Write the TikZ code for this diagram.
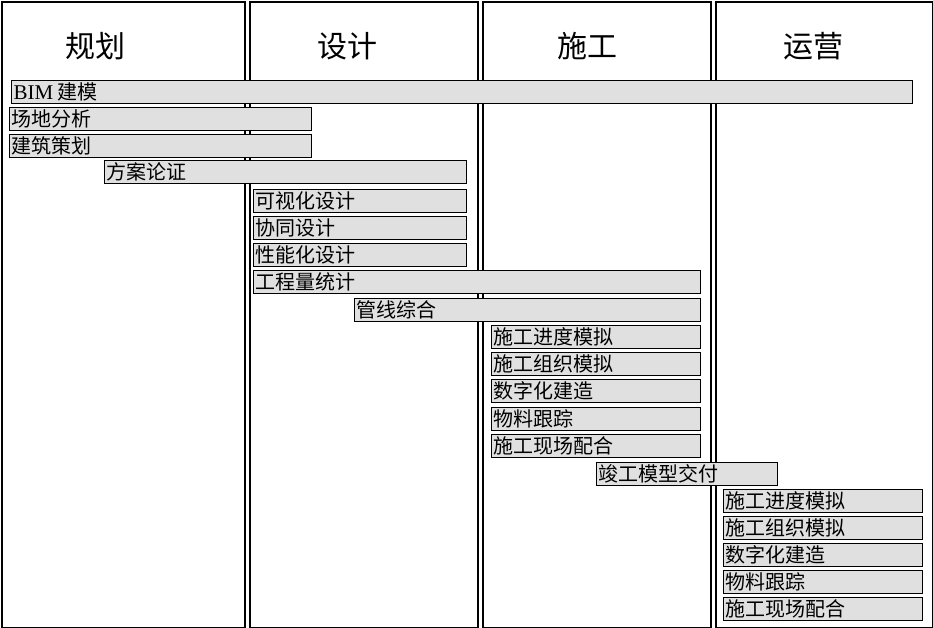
\documentclass[tikz,border=0pt]{standalone}
\usepackage{fontspec}
\setmainfont{Liberation Serif}
\newfontfamily\cjk{Noto Sans CJK SC}
\tikzset{
  colbox/.style={draw, line width=2pt, anchor=north west, inner sep=0pt, fill=white},
  gbarst/.style={draw, line width=1.3pt, fill=black!12, anchor=north west, inner sep=0pt, minimum height=23pt},
  gtext/.style={anchor=west, inner xsep=2.5pt, inner ysep=0pt, font=\fontsize{20}{20}\selectfont\cjk},
  head/.style={font=\fontsize{30}{30}\selectfont\cjk, inner sep=0pt}
}
\newcommand\gbar[5]{%
  \node[gbarst, minimum width=#4pt] (#1) at (#2,-#3) {};
  \node[gtext] (#1t) at (#1.west) {#5};}
\begin{document}
\begin{tikzpicture}[x=1pt,y=1pt]
\useasboundingbox (0,0) rectangle (933,-628);
% columns
\node[colbox, minimum width=243pt, minimum height=626pt] (c1) at (1,-1) {};
\node[colbox, minimum width=227.5pt, minimum height=626pt] (c2) at (249,-1) {};
\node[colbox, minimum width=227.5pt, minimum height=626pt] (c3) at (482,-1) {};
\node[colbox, minimum width=217pt, minimum height=626pt] (c4) at (714.5,-1) {};
% headers
\node[head] (h1) at (95,-46) {规划};
\node[head] (h2) at (347,-46) {设计};
\node[head] (h3) at (587,-46) {施工};
\node[head] (h4) at (813,-46) {运营};
% bars
\gbar{b1}{11}{80}{901}{{\rmfamily\fontsize{21}{21}\selectfont BIM} 建模}
\gbar{b2}{9}{107}{302}{场地分析}
\gbar{b3}{9}{134}{302}{建筑策划}
\gbar{b4}{104}{160}{362}{方案论证}
\gbar{b5}{253}{189}{213}{可视化设计}
\gbar{b6}{253}{216}{213}{协同设计}
\gbar{b7}{253}{243}{213}{性能化设计}
\gbar{b8}{253}{270}{447}{工程量统计}
\gbar{b9}{354}{298}{346}{管线综合}
\gbar{b10}{491}{325}{209}{施工进度模拟}
\gbar{b11}{491}{352}{209}{施工组织模拟}
\gbar{b12}{491}{379}{209}{数字化建造}
\gbar{b13}{491}{407}{209}{物料跟踪}
\gbar{b14}{491}{434}{209}{施工现场配合}
\gbar{b15}{596}{462}{181}{竣工模型交付}
\gbar{b16}{723}{489}{199}{施工进度模拟}
\gbar{b17}{723}{516}{199}{施工组织模拟}
\gbar{b18}{723}{543}{199}{数字化建造}
\gbar{b19}{723}{570}{199}{物料跟踪}
\gbar{b20}{723}{597}{199}{施工现场配合}
\end{tikzpicture}
\end{document}
